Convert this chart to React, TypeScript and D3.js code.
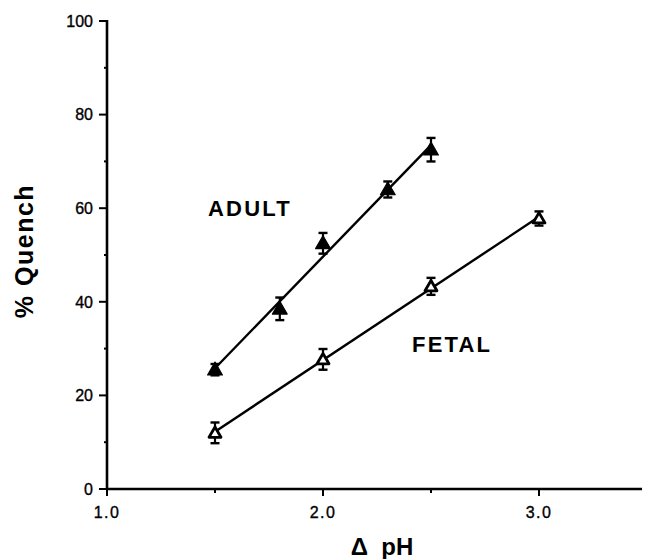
import React from "react";
import * as d3 from "d3";

// adult (filled triangles)
const adultPH = [1.5, 1.8, 2.0, 2.3, 2.5];
const adultQuench = [25.5, 38.5, 52.5, 64.0, 72.5];
const adultErr = [1.0, 2.2, 2.0, 1.5, 2.3];

// fetal (open triangles)
const fetalPH = [1.5, 2.0, 2.5, 3.0];
const fetalQuench = [12.0, 27.7, 43.3, 57.8];
const fetalErr = [2.0, 2.0, 1.6, 1.3];

const xMajor = [1.0, 2.0, 3.0];
const xMinor = [1.5, 2.5];
const yMajor = [0, 20, 40, 60, 80, 100];
const yMinor = [10, 30, 50, 70, 90];

const W = 646;
const H = 559;

const x = d3.scaleLinear().domain([1.0, 3.0]).range([107, 539]);
const y = d3.scaleLinear().domain([0, 100]).range([489, 21]);

function fit(xs: number[], ys: number[]) {
  const mx = d3.mean(xs)!;
  const my = d3.mean(ys)!;
  const sxy = d3.sum(xs, (v, i) => (v - mx) * (ys[i] - my));
  const sxx = d3.sum(xs, (v) => (v - mx) * (v - mx));
  const b = sxy / sxx;
  return { a: my - b * mx, b };
}

const tri = d3.symbol().type(d3.symbolTriangle);

const Series = ({ xs, ys, errs, filled }: { xs: number[]; ys: number[]; errs: number[]; filled: boolean }) => {
  const f = fit(xs, ys);
  const x0 = d3.min(xs)!;
  const x1 = d3.max(xs)!;
  const line = d3.line<number>().x((d) => x(d)).y((d) => y(f.a + f.b * d));
  return (
    <g>
      <path d={line([x0, x1])!} stroke="#000" strokeWidth={2.4} fill="none" />
      {xs.map((v, i) => {
        const cx = x(v);
        const top = y(ys[i] + errs[i]) - 1;
        const bot = y(ys[i] - errs[i]) + 1;
        return (
          <g key={i}>
            <line x1={cx} x2={cx} y1={top} y2={bot} stroke="#000" strokeWidth={2.2} />
            <line x1={cx - 4.5} x2={cx + 4.5} y1={top} y2={top} stroke="#000" strokeWidth={2.4} />
            <line x1={cx - 4.5} x2={cx + 4.5} y1={bot} y2={bot} stroke="#000" strokeWidth={2.4} />
            <path
              d={tri.size(filled ? 95 : 62)()!}
              transform={`translate(${cx},${y(ys[i]) + 1})`}
              fill={filled ? "#000" : "#fff"}
              stroke="#000"
              strokeWidth={filled ? 1.2 : 2.8}
              strokeLinejoin="round"
            />
          </g>
        );
      })}
    </g>
  );
};

export default function App() {
  const font = "'Liberation Sans', Arial, sans-serif";
  return (
    <svg width={W} height={H} style={{ position: "absolute", left: 0, top: 0, background: "#fff" }} fontFamily={font}>
      {/* axes */}
      <line x1={x(1.0)} x2={642} y1={y(0)} y2={y(0)} stroke="#000" strokeWidth={2.6} />
      <line x1={x(1.0)} x2={x(1.0)} y1={y(100) - 1} y2={y(0)} stroke="#000" strokeWidth={2.6} />
      {yMajor.map((v) => (
        <g key={v}>
          <line x1={x(1.0) - 8} x2={x(1.0)} y1={y(v)} y2={y(v)} stroke="#000" strokeWidth={2} />
          <text x={93} y={y(v)} dy="0.36em" textAnchor="end" fontSize={16} stroke="#000" strokeWidth={0.35}>{v}</text>
        </g>
      ))}
      {yMinor.map((v) => (
        <line key={v} x1={x(1.0) - 3} x2={x(1.0)} y1={y(v)} y2={y(v)} stroke="#000" strokeWidth={2} />
      ))}
      {xMajor.map((v) => (
        <g key={v}>
          <line x1={x(v)} x2={x(v)} y1={y(0)} y2={y(0) + 7} stroke="#000" strokeWidth={2} />
          <text x={x(v)} y={518} textAnchor="middle" fontSize={16} letterSpacing={1.5} stroke="#000" strokeWidth={0.35}>{v.toFixed(1)}</text>
        </g>
      ))}
      {xMinor.map((v) => (
        <line key={v} x1={x(v)} x2={x(v)} y1={y(0)} y2={y(0) + 4} stroke="#000" strokeWidth={2} />
      ))}
      <text x={382} y={555} textAnchor="middle" fontSize={24} fontWeight="bold" xmlSpace="preserve">Δ  pH</text>
      <text transform="translate(33,251) rotate(-90)" textAnchor="middle" fontSize={25} fontWeight="bold" letterSpacing={1.5}>% Quench</text>

      <Series xs={adultPH} ys={adultQuench} errs={adultErr} filled={true} />
      <Series xs={fetalPH} ys={fetalQuench} errs={fetalErr} filled={false} />

      <text x={208} y={216} fontSize={22} fontWeight="bold" letterSpacing={2.2}>ADULT</text>
      <text x={412} y={352} fontSize={22} fontWeight="bold" letterSpacing={2.2}>FETAL</text>
    </svg>
  );
}
